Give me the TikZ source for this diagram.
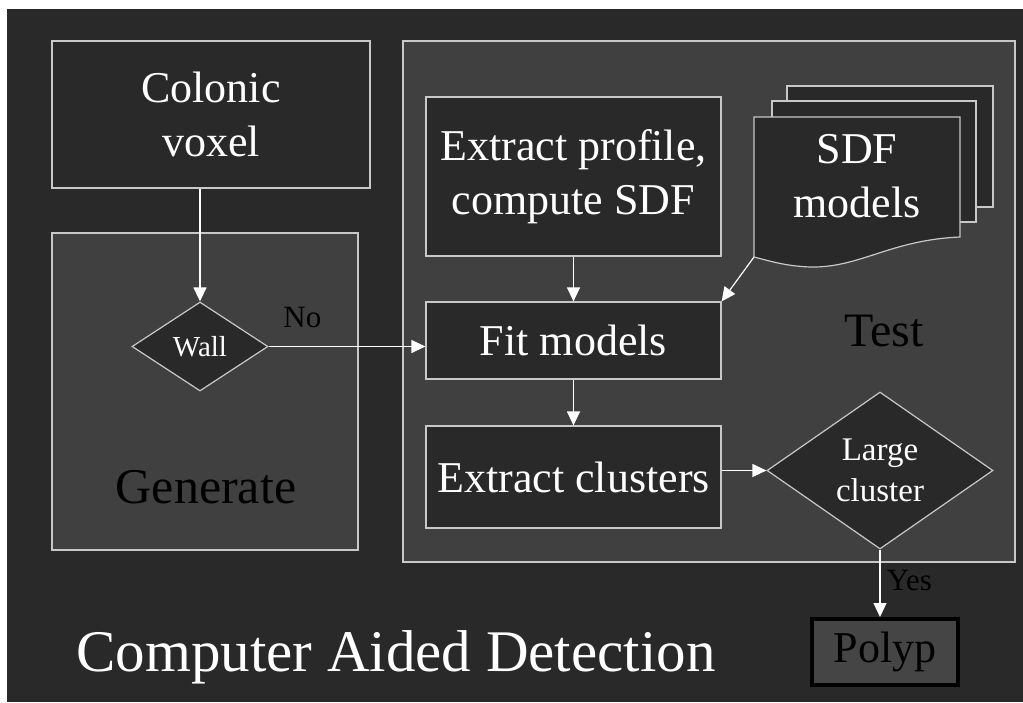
\documentclass[tikz,border=0pt]{standalone}
\usepackage{fontspec}
\setmainfont{Liberation Serif}
\usetikzlibrary{shapes.geometric,arrows.meta}
\definecolor{bgdark}{HTML}{292929}
\definecolor{panelgray}{HTML}{404040}
\definecolor{linegray}{HTML}{C8C8C8}
\definecolor{polypfill}{HTML}{454545}
\begin{document}
\begin{tikzpicture}[x=1pt,y=-1pt,
    procbox/.style={draw=linegray, line width=1.2pt, fill=bgdark, text=white,
        align=center, inner sep=0pt, font=\fontsize{44}{54}\selectfont},
    decision/.style={diamond, draw=linegray, line width=1.2pt, fill=bgdark,
        text=white, align=center, inner sep=0pt},
    panel/.style={draw=linegray, line width=1.2pt, fill=panelgray},
    sheet/.style={draw=linegray, line width=1.2pt, fill=bgdark},
    arr/.style={draw=white, line width=1.2pt, -{Triangle[length=14pt,width=13pt]}}]

    % fondo
    \useasboundingbox (0,0) rectangle (1023,702);
    \fill[white] (0,0) rectangle (1023,702);
    \fill[bgdark] (7,9) rectangle (1023,702);

    % paneles Generate y Test
    \filldraw[panel] (52,233) rectangle (358,550);
    \filldraw[panel] (403,41) rectangle (1015,562);
    \node[anchor=base, font=\fontsize{50}{60}\selectfont] (genlabel) at (206,503) {Generate};
    \node[anchor=base, font=\fontsize{48}{58}\selectfont] (testlabel) at (884,346) {Test};

    % cajas
    \node[procbox, minimum width=318pt, minimum height=147pt] (colonic) at (211,114.5) {Colonic\\voxel};
    \node[procbox, minimum width=295pt, minimum height=159pt] (extract) at (573.5,176.5) {Extract profile,\\compute SDF};
    \node[procbox, minimum width=295pt, minimum height=77pt] (fit) at (573.5,340.5) {Fit models};
    \node[procbox, minimum width=295pt, minimum height=102pt] (clusters) at (573.5,477) {Extract clusters};

    % decisiones
    \node[decision, minimum width=136pt, minimum height=89pt,
        font=\fontsize{29}{35}\selectfont] (wall) at (200,346.5) {Wall};
    \node[decision, minimum width=226pt, minimum height=157pt,
        font=\fontsize{33}{41}\selectfont] (large) at (880,470.5) {Large\\cluster};

    % modelos SDF (hojas)
    \filldraw[sheet] (787,86) rectangle (993,207);
    \filldraw[sheet] (772,101) rectangle (976,222);
    \filldraw[sheet] (754,117) -- (960,117) -- (960,237)
        .. controls (890,240) and (860,268) .. (810,267)
        .. controls (785,266) and (770,261) .. (754,257) -- cycle;
    \coordinate (sdfcorner) at (754,257);
    \node[text=white, align=center, font=\fontsize{44}{54}\selectfont] (sdf) at (857,176) {SDF\\models};

    % resultado
    \node[draw=black, line width=4pt, fill=polypfill, minimum width=146pt, minimum height=66pt,
        font=\fontsize{44}{54}\selectfont] (polyp) at (885,652) {Polyp};

    % flechas
    \draw[arr] (colonic.south -| wall.north) -- (wall.north);
    \draw[arr] (wall.east) -- (wall.east -| fit.west)
        node[pos=0.215, anchor=base, yshift=19pt, font=\fontsize{31}{37}\selectfont] (nolabel) {No};
    \draw[arr] (extract.south) -- (fit.north);
    \draw[arr] (sdfcorner) -- (fit.north east);
    \draw[arr] (fit.south) -- (clusters.north);
    \draw[arr] (large.west -| clusters.east) -- (large.west);
    \draw[arr] (large.south) -- (large.south |- polyp.north)
        node[pos=0.61, anchor=base west, xshift=3pt, font=\fontsize{31}{37}\selectfont] (yeslabel) {Yes};

    % titulo
    \node[anchor=base, text=white, font=\fontsize{59}{70}\selectfont] (title) at (396,671) {Computer Aided Detection};

\end{tikzpicture}
\end{document}
